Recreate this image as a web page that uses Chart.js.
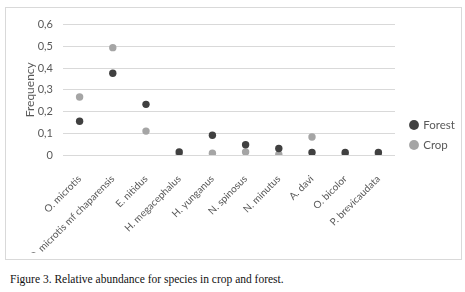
<!DOCTYPE html>
<html><head><meta charset="utf-8">
<script src="https://cdn.jsdelivr.net/npm/chart.js@4"></script>
<style>
html,body{margin:0;padding:0;background:#fff;width:465px;height:292px;overflow:hidden}
#box{position:absolute;left:5px;top:7px;width:457px;height:253px;border:1px solid #d9d9d9;box-sizing:border-box}
#cap{position:absolute;left:10px;top:273px;font-family:"Liberation Serif","DejaVu Serif",serif;font-size:11.5px;color:#111;white-space:nowrap}
</style></head><body>
<div id="box"><canvas id="c"></canvas></div>
<div id="cap">Figure 3. Relative abundance for species in crop and forest.</div>
<script>
const categories = ["O. microtis","O. microtis mf chaparensis","E. nitidus","H. megacephalus","H. yunganus","N. spinosus","N. minutus","A. davi","O. bicolor","P. brevicaudata"];
const forest = [0.155,0.376,0.233,0.014,0.091,0.047,0.030,0.012,0.012,0.012];
const crop = [0.267,0.494,0.110,0.003,0.008,0.014,0.003,0.083,0.002,0.003];
const yTicks = [0,0.1,0.2,0.3,0.4,0.5,0.6];

const fam = "Lato,'Open Sans','Liberation Sans',sans-serif";
const shiftLegend = {
  id:'shiftLegend',
  afterLayout(c){ const l=c.legend; l.left+=7; l.right+=7; l.top+=3; l.bottom+=3; }
};
new Chart(document.getElementById('c'), {
  type:'line',
  data:{labels:categories, datasets:[
    {label:'Forest', data:forest, showLine:false, pointRadius:3.7, pointHoverRadius:3.7, backgroundColor:'#404040', borderColor:'#404040', pointBorderWidth:0},
    {label:'Crop', data:crop, showLine:false, pointRadius:3.7, pointHoverRadius:3.7, backgroundColor:'#a5a5a5', borderColor:'#a5a5a5', pointBorderWidth:0}
  ]},
  plugins:[shiftLegend],
  options:{
    responsive:true, maintainAspectRatio:false, animation:false,
    layout:{padding:{top:3,left:14,right:0,bottom:6}},
    plugins:{
      legend:{position:'right', labels:{usePointStyle:true, pointStyle:'circle', boxWidth:7, boxHeight:7, padding:8.5, color:'#595959', font:{family:fam,size:11.5}}},
      tooltip:{enabled:false}
    },
    scales:{
      x:{offset:true, grid:{display:false}, border:{display:false},
         afterFit:(s)=>{ s.paddingLeft = 0; s.paddingRight = 66; s.height = 98; },
         ticks:{color:'#595959', font:{family:fam,size:10}, padding:10, maxRotation:45, minRotation:45, autoSkip:false}},
      y:{min:0, max:0.6, afterBuildTicks:(s)=>{s.ticks = yTicks.map(v=>({value:v}));},
         afterFit:(s)=>{ s.width = 43; },
         grid:{color:'#d9d9d9', drawTicks:false}, border:{display:false},
         title:{display:true, text:'Frequency', color:'#595959', font:{family:fam,size:12}, padding:{top:3,bottom:2}},
         ticks:{color:'#595959', font:{family:fam,size:11}, padding:10, callback:(v)=> v===0 ? '0' : v.toFixed(1).replace('.',',')}}
    }
  }
});
</script>
</body></html>
